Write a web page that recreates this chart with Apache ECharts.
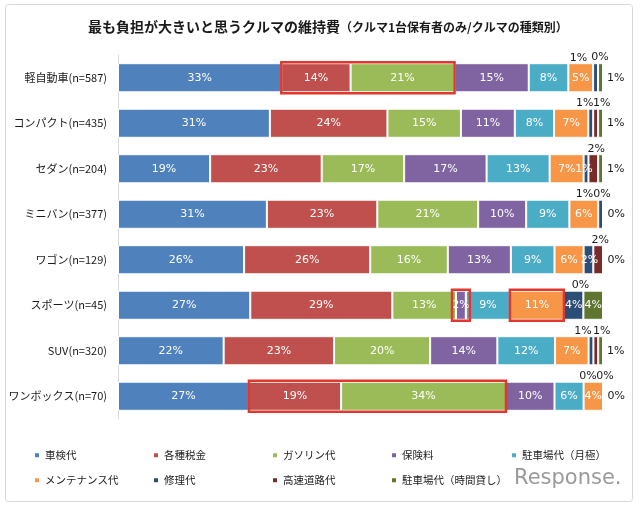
<!DOCTYPE html>
<html><head><meta charset="utf-8">
<script src="https://cdn.jsdelivr.net/npm/echarts@6/dist/echarts.min.js"></script>
<style>html,body{margin:0;padding:0;background:#fff}#c{width:640px;height:506px}</style>
</head><body><div id="c"></div>
<script>
// ---- data (percent, as labelled) ----
const categories = ['軽自動車(n=587)','コンパクト(n=435)','セダン(n=204)','ミニバン(n=377)','ワゴン(n=129)','スポーツ(n=45)','SUV(n=320)','ワンボックス(n=70)'];
const seriesNames = ['車検代','各種税金','ガソリン代','保険料','駐車場代（月極）','メンテナンス代','修理代','高速道路代','駐車場代（時間貸し）'];
const shakenDai     = [33,31,19,31,26,27,22,27];
const zeikin        = [14,24,23,23,26,29,23,19];
const gasoline      = [21,15,17,21,16,13,20,34];
const hokenryo      = [15,11,17,10,13, 2,14,10];
const chushaTsuki   = [ 8, 8,13, 9, 9, 9,12, 6];
const maintenance   = [ 5, 7, 7, 6, 6,11, 7, 4];
const shuri         = [ 1, 1, 1, 1, 2, 4, 1, 0];
const kosoku        = [ 0, 1, 2, 0, 2, 0, 1, 0];
const chushaJikan   = [ 1, 1, 1, 0, 0, 4, 1, 0];
const seriesValues = [shakenDai,zeikin,gasoline,hokenryo,chushaTsuki,maintenance,shuri,kosoku,chushaJikan];
// highlighted boxes: [row, fromSeries, toSeries]
const highlights = [[0,1,2],[5,3,3],[5,5,5],[7,1,2]];

// ---- styles ----
const colors = ['#4F81BD','#C0504D','#9BBB59','#8064A2','#4BACC6','#F79646','#2C4D75','#772C2A','#5F7530'];
const navyPos  = ['top','top','inside','top','inside','inside','top','top'];
const navyDx   = [-17,-6,-2,-16,1,0,-8,-15];
const redDx    = [2,6,3,-1,2,-3,6,2];
const greenPos = ['right','right','right','right','right','inside','right','right'];
const boxPadX  = [0,4,0,0];

const rowSums = categories.map((_, r) => seriesValues.reduce((a, s) => a + s[r], 0));
const norm = seriesValues.map(s => s.map((v, r) => v / rowSums[r] * 100));

const FONT = 'DejaVu Sans';
const insideLabel = {show:true, position:'inside', color:'#fff', fontSize:11, fontFamily:FONT};
const topLabel = {show:true, position:'top', distance:0, color:'#1a1a1a', fontSize:11, fontFamily:FONT};
const rightLabel = {show:true, position:'right', distance:4, color:'#1a1a1a', fontSize:11, fontFamily:FONT};

const barSeries = seriesNames.map((name, s) => {
  const fmt = p => seriesValues[s][p.dataIndex] + '%';
  const se = {
    name, type:'bar', stack:'total', barWidth:'64%',
    itemStyle:{color:colors[s], borderColor:'#fff', borderWidth:1},
    label: Object.assign({}, insideLabel, {formatter: fmt}),
    data: norm[s].map((v, r) => {
      const item = {value:v};
      let lb = null;
      if (s === 6) lb = navyPos[r] === 'top' ? topLabel : insideLabel;
      if (s === 7) lb = topLabel;
      if (s === 8) lb = greenPos[r] === 'right' ? rightLabel : insideLabel;
      if (lb) item.label = Object.assign({}, lb, {formatter: fmt});
      return item;
    })
  };
  if (s === 6) se.labelLayout = p => ({dx: navyDx[p.dataIndex]});
  if (s === 7) se.labelLayout = p => ({dx: redDx[p.dataIndex]});
  return se;
});

const boxSeries = {
  type:'custom', silent:true, z:10,
  data: highlights.map(h => [0, h[0]]),
  renderItem: (params, api) => {
    const [row, from, to] = highlights[params.dataIndex];
    let start = 0; for (let s = 0; s < from; s++) start += norm[s][row];
    let end = start; for (let s = from; s <= to; s++) end += norm[s][row];
    const p0 = api.coord([start, row]);
    const p1 = api.coord([end, row]);
    const h = api.size([0, 1])[1] * 0.64;
    const px = boxPadX[params.dataIndex];
    return {type:'rect', shape:{x:p0[0]-px, y:p0[1]-h/2-1, width:p1[0]-p0[0]+2*px, height:h+2},
      style:{fill:'none', stroke:'#E2372F', lineWidth:2.5}};
  }
};

const legendLefts = [33,152,271,390,510];
const legends = seriesNames.map((name, i) => ({
  data:[name], left: legendLefts[i % 5], top: i < 5 ? 450 : 475,
  icon:'rect', itemWidth:6, itemHeight:6, padding:0, selectedMode:false,
  textStyle:{fontSize:10.5, color:'#222', fontFamily:'Noto Sans CJK JP'}
}));

const chart = echarts.init(document.getElementById('c'), null, {renderer:'canvas'});
chart.setOption({
  animation:false,
  color: colors,
  title:{
    left:83, top:15,
    text:'{a|最も負担が大きいと思うクルマの維持費}{b|（クルマ1台保有者のみ/クルマの種類別）}',
    textStyle:{rich:{
      a:{fontSize:14, fontWeight:'bold', color:'#1a1a1a', fontFamily:'Noto Sans CJK JP'},
      b:{fontSize:12, fontWeight:'bold', color:'#1a1a1a', fontFamily:'Noto Sans CJK JP'}
    }}
  },
  legend: legends,
  grid:{left:118, right:37, top:55, bottom:87},
  xAxis:{type:'value', min:0, max:100, show:false},
  yAxis:{type:'category', data:categories, inverse:true,
    axisLine:{show:true, lineStyle:{color:'#D9D9D9', width:1}},
    axisTick:{show:false},
    axisLabel:{margin:11, fontSize:11, color:'#1a1a1a', fontFamily:'Noto Sans CJK JP'}
  },
  graphic:[
    {type:'rect', shape:{x:5.5, y:4.5, width:627, height:497, r:3}, style:{fill:'none', stroke:'#D9D9D9', lineWidth:1}, silent:true, z:-10},
    {type:'text', left:514, top:468, style:{text:'Response.', font:'21px "DejaVu Sans"', fill:'#9a9a9a'}, silent:true}
  ],
  series: barSeries.concat([boxSeries])
});
</script></body></html>
